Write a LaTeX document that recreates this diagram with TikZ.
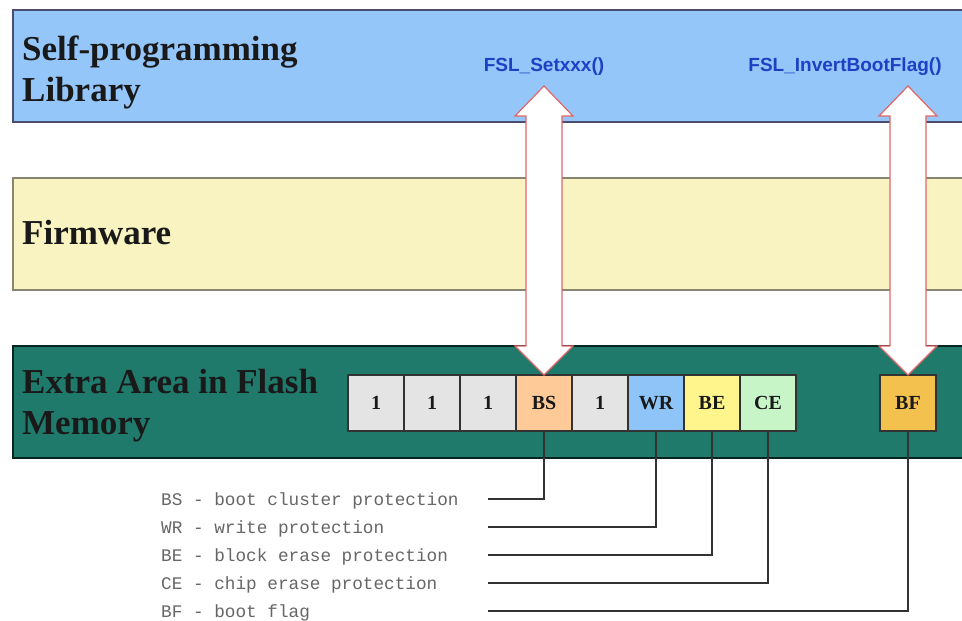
\documentclass[tikz,border=0pt]{standalone}
\usepackage{fontspec}
\setmainfont{Liberation Serif}
\setsansfont{Liberation Sans}
\setmonofont{Liberation Mono}
\usetikzlibrary{
	positioning,
	calc
}
\definecolor{libblue}{HTML}{94C6FA}
\definecolor{fwyellow}{HTML}{F8F3C0}
\definecolor{flashgreen}{HTML}{1F7A6C}
\definecolor{cellgray}{HTML}{E4E4E4}
\definecolor{bsorange}{HTML}{FECB98}
\definecolor{wrblue}{HTML}{8EC4F8}
\definecolor{beyellow}{HTML}{FFF58C}
\definecolor{cegreen}{HTML}{C8F5C8}
\definecolor{bfgold}{HTML}{F2C14E}
\definecolor{arrowred}{HTML}{E06666}
\definecolor{fslblue}{HTML}{2040C4}

\begin{document}
\begin{tikzpicture}[
		x=1pt, y=-1pt,
		band/.style={rectangle, line width=1.5pt, anchor=north west, minimum width=960pt, minimum height=112pt, inner sep=0pt, outer sep=0pt},
		title/.style={anchor=base west, align=left, inner sep=0pt, text=black!90, font=\bfseries\fontsize{35}{41}\selectfont},
		cell/.style={draw=black!80, line width=1.2pt, rectangle, anchor=north west, minimum width=56pt, minimum height=56pt, inner sep=0pt, outer sep=0pt, text=black!90, font=\bfseries\fontsize{20}{20}\selectfont},
		hollow/.style={draw=arrowred, fill=white, line width=1.2pt, line join=miter},
		fsl/.style={anchor=base, inner sep=0pt, text=fslblue, font=\sffamily\bfseries\fontsize{19}{19}\selectfont},
		% fixed-width spaces for the legend
		legend/.style={anchor=base west, inner sep=0pt, align=left, text width=327pt, text height=12pt, text depth=0pt, text=black!60,
			font=\ttfamily\fontsize{17.7}{17.7}\selectfont, execute at begin node=\spaceskip 10.62pt\relax},
		lead/.style={draw=black!80, line width=1.2pt}
		]
		\useasboundingbox (0,0) rectangle (962,621);
		
		% --- Bands ---
		\node[band, draw=black!65!blue!40!gray, fill=libblue] (libband) at (13,10) {};
		\node[band, draw=black!60!yellow!40!gray, fill=fwyellow] (fwband) at (13,178) {};
		\node[band, draw=black!70!flashgreen, fill=flashgreen] (flashband) at (13,346) {};
		
		% base of a two-line title is the last line
		\node[title] (libtxt) at (22,101) {Self-programming\\Library};
		\node[title] (fwtxt) at (22,244) {Firmware};
		\node[title] (flashtxt) at (22,434) {Extra Area in Flash\\Memory};
		
		% --- Flash cells ---
		\node[cell, fill=cellgray] (c1) at (348,375) {1};
		\node[cell, fill=cellgray, right=0pt of c1] (c2) {1};
		\node[cell, fill=cellgray, right=0pt of c2] (c3) {1};
		\node[cell, fill=bsorange, right=0pt of c3] (bs) {BS};
		\node[cell, fill=cellgray, right=0pt of bs] (c5) {1};
		\node[cell, fill=wrblue, right=0pt of c5] (wr) {WR};
		\node[cell, fill=beyellow, right=0pt of wr] (be) {BE};
		\node[cell, fill=cegreen, right=0pt of be] (ce) {CE};
		\node[cell, fill=bfgold] (bf) at (880,375) {BF};
		
		% --- Library calls ---
		\node[fsl] (setfn) at (544,71) {FSL\_Setxxx()};
		\node[fsl] (invfn) at (845,71) {FSL\_InvertBootFlag()};
		
		\draw[hollow] (bs.north) -- ++(-29,-29) -- ++(11,0) -- ++(0,-230) -- ++(-11,0) -- ++(29,-30)
			-- ++(29,30) -- ++(-11,0) -- ++(0,230) -- ++(11,0) -- cycle;
		\draw[hollow] (bf.north) -- ++(-29,-29) -- ++(11,0) -- ++(0,-230) -- ++(-11,0) -- ++(29,-30)
			-- ++(29,30) -- ++(-11,0) -- ++(0,230) -- ++(11,0) -- cycle;
		
		% --- Legend ---
		\node[legend] (bsl) at (161,505) {BS - boot cluster protection};
		\node[legend] (wrl) at (161,533) {WR - write protection};
		\node[legend] (bel) at (161,561) {BE - block erase protection};
		\node[legend] (cel) at (161,589) {CE - chip erase protection};
		\node[legend] (bfl) at (161,617) {BF - boot flag};
		
		\draw[lead] (bs.south) |- (bsl.east);
		\draw[lead] (wr.south) |- (wrl.east);
		\draw[lead] (be.south) |- (bel.east);
		\draw[lead] (ce.south) |- (cel.east);
		\draw[lead] (bf.south) |- (bfl.east);
		
	\end{tikzpicture}
\end{document}
